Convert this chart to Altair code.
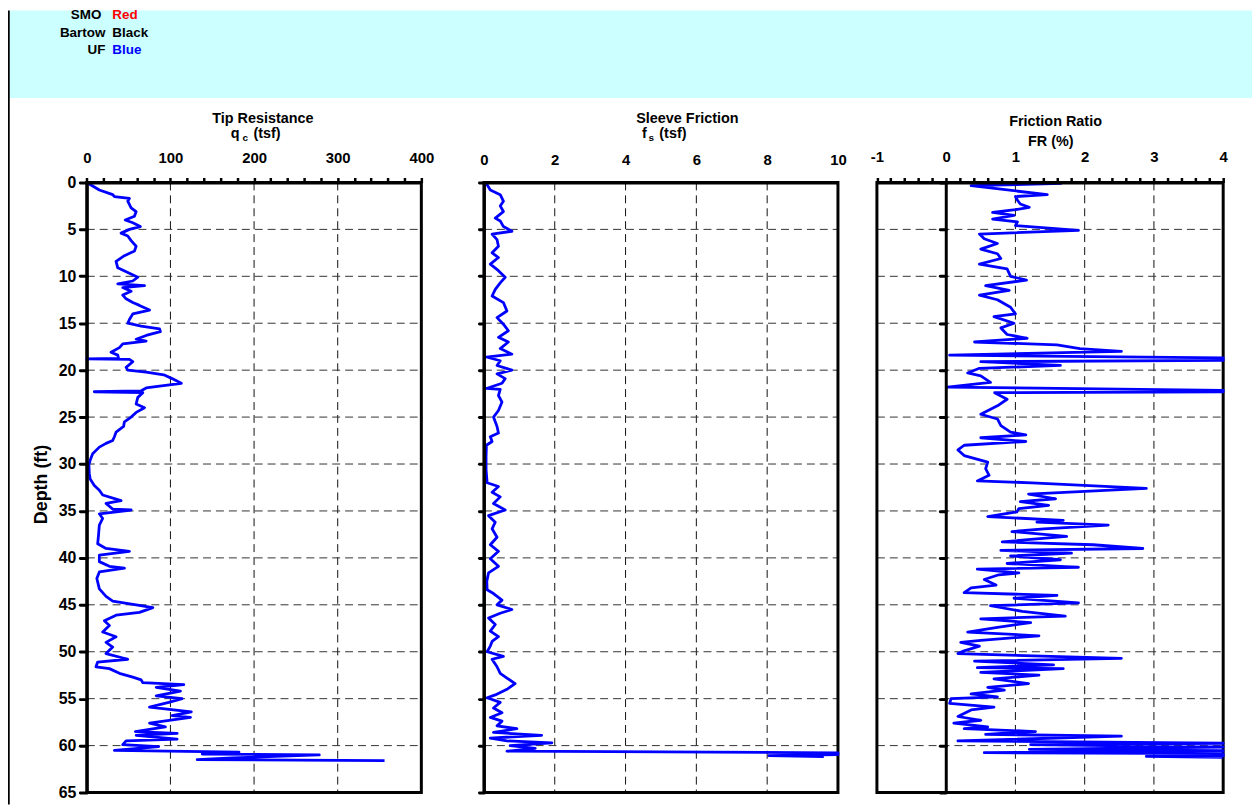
import altair as alt
import pandas as pd

# ---------------- data ----------------
qc_depth = [0, 0.8, 1.3, 1.5, 1.7, 2.0, 2.7, 3.1, 3.6, 4.0, 4.3, 4.7, 5.0, 5.4, 5.7, 6.2, 6.8, 7.3, 7.8,
            8.4, 9.1, 9.6, 10.1, 10.5, 10.8, 11.0, 11.2, 11.6, 12.0, 12.4, 12.8, 13.1, 13.6, 14.0, 14.6,
            15.0, 15.3, 15.6, 15.9, 16.3, 16.7, 16.9, 17.2, 17.6, 18.1, 18.4, 18.75, 18.8, 18.85, 19.1,
            19.7, 20.0, 20.2, 20.5, 20.9, 21.4, 21.7, 21.9, 22.2, 22.3, 22.4, 22.9, 23.6, 24.0, 24.5,
            25.0, 25.5, 26.0, 26.6, 27.1, 27.5, 27.8, 28.2, 28.9, 29.6, 30.1, 31.0, 31.6, 32.3, 32.8,
            33.3, 33.9, 34.2, 34.8, 34.9, 35.3, 35.8, 36.5, 37.6, 38.5, 39.0, 39.3, 39.7, 40.4, 40.9,
            41.1, 41.5, 42.2, 43.3, 44.1, 44.6, 45.0, 45.3, 45.8, 46.1, 46.7, 47.2, 47.9, 48.4, 49.0,
            49.5, 50.2, 50.8, 51.1, 51.6, 51.8, 52.3, 52.7, 53.0, 53.3, 53.5, 53.8, 54.2, 54.7, 55.0,
            55.4, 55.9, 56.4, 56.8, 57.0, 57.6, 58.0, 58.5, 58.7, 58.9, 59.3, 59.5, 59.9, 60.1, 60.5,
            60.7, 60.9, 61.0, 61.3, 61.5, 61.6]
qc_tsf = [0, 15, 31, 33, 51, 49, 53, 59, 57, 46, 55, 64, 51, 41, 49, 53, 59, 57, 45,
          35, 37, 49, 61, 55, 37, 69, 43, 53, 43, 47, 55, 63, 75, 55, 51,
          49, 65, 87, 88, 71, 59, 71, 43, 39, 29, 37, 38, 0, 51, 55,
          47, 49, 71, 92, 102, 113, 87, 71, 65, 9, 67, 61, 59, 69, 59,
          53, 45, 44, 35, 33, 31, 23, 15, 7, 4, 2.5, 3, 4, 9, 15,
          19, 41, 23, 31, 53, 15, 19, 15, 14, 13, 23, 51, 15, 15, 27,
          45, 15, 12, 15, 23, 31, 59, 79, 63, 35, 21, 27, 19, 35, 23,
          31, 23, 49, 13, 11, 27, 39, 55, 65, 67, 116, 83, 112, 83, 114,
          98, 75, 125, 102, 124, 75, 94, 58, 108, 59, 108, 47, 43, 86, 33,
          182, 138, 278, 174, 132, 356]

fs_depth = [0, 0.8, 1.3, 2.0, 2.5, 3.1, 3.8, 4.1, 4.7, 5.2, 5.5, 6.1, 6.8, 7.5, 8.0, 8.7, 9.4, 10.1,
            10.7, 11.4, 12.1, 12.8, 13.7, 14.4, 15.1, 15.8, 16.5, 17.0, 17.7, 18.3, 18.6, 19.0, 19.5,
            20.0, 20.4, 20.9, 21.4, 21.95, 22.05, 22.7, 23.4, 24.3, 25.0, 26.0, 26.7, 27.1, 27.6, 28.0,
            29.2, 30.6, 32.0, 32.4, 33.0, 33.5, 34.2, 34.9, 35.5, 36.2, 36.9, 37.8, 38.6, 39.3, 40.1,
            40.9, 41.6, 42.5, 43.4, 43.8, 44.5, 45.0, 45.5, 45.9, 46.4, 47.1, 47.8, 48.4, 48.9, 49.4,
            50.0, 50.5, 50.8, 51.6, 52.3, 52.8, 53.4, 54.0, 54.6, 54.9, 55.4, 56.0, 56.5, 57.0, 57.4,
            57.9, 58.2, 58.6, 58.9, 59.2, 59.5, 59.7, 60.0, 60.3, 60.6, 60.77, 60.95, 61.08, 61.18]
fs_tsf = [0.05, 0.18, 0.46, 0.55, 0.46, 0.55, 0.32, 0.46, 0.55, 0.79, 0.23, 0.37, 0.41, 0.23, 0.41, 0.18, 0.41, 0.60,
          0.46, 0.32, 0.23, 0.55, 0.65, 0.37, 0.55, 0.69, 0.41, 0.69, 0.46, 0.79, 0.07, 0.46, 0.37,
          0.79, 0.37, 0.60, 0.51, 0.07, 0.46, 0.41, 0.51, 0.41, 0.27, 0.37, 0.41, 0.18, 0.23, 0.07,
          0.06, 0.06, 0.09, 0.41, 0.23, 0.46, 0.27, 0.60, 0.13, 0.32, 0.23, 0.37, 0.18, 0.41, 0.18,
          0.41, 0.13, 0.08, 0.09, 0.27, 0.51, 0.37, 0.79, 0.46, 0.13, 0.32, 0.18, 0.41, 0.23, 0.18,
          0.09, 0.55, 0.23, 0.37, 0.46, 0.65, 0.88, 0.65, 0.32, 0.09, 0.46, 0.27, 0.51, 0.18, 0.51,
          0.37, 0.93, 0.27, 1.63, 0.18, 0.65, 1.92, 0.74, 1.45, 0.65, 10.0, 10.0, 8.05, 9.6]

fr_depth = [0.1, 0.35, 1.3, 1.5, 1.9, 2.3, 2.65, 2.9, 3.2, 3.5, 3.9, 4.2, 4.6, 5.1, 5.5, 6.0, 6.5, 7.1,
            7.6, 8.1, 8.7, 9.2, 10.0, 10.4, 11.0, 11.5, 12.0, 12.5, 13.3, 14.0, 14.3, 15.0, 15.5, 16.2,
            16.6, 17.0, 17.3, 17.7, 18.0, 18.4, 18.7, 18.95, 19.1, 19.5, 19.8, 20.3, 20.6, 21.3, 21.8,
            22.15, 22.3, 22.4, 23.1, 23.8, 24.7, 25.2, 25.9, 26.6, 26.9, 27.2, 27.6, 28.0, 28.5, 29.1,
            29.8, 30.5, 31.2, 31.8, 32.0, 32.6, 33.2, 33.7, 34.0, 34.4, 34.75, 35.1, 35.6, 36.0, 36.2,
            36.5, 36.9, 37.2, 37.7, 38.3, 38.6, 39.0, 39.2, 39.5, 39.8, 40.2, 40.6, 41.0, 41.2, 41.6,
            41.8, 42.3, 42.9, 43.2, 43.7, 44.0, 44.3, 44.8, 45.1, 45.7, 46.2, 46.5, 46.9, 47.4, 47.9,
            48.3, 48.8, 49.0, 49.4, 49.9, 50.2, 50.7, 51.0, 51.4, 51.7, 51.8, 52.2, 52.5, 52.9, 53.4,
            53.8, 54.1, 54.5, 54.8, 55.0, 55.5, 55.9, 56.2, 56.9, 57.3, 57.6, 58.0, 58.2, 58.5, 58.8,
            59.0, 59.5, 59.75, 59.9, 60.15, 60.4, 60.55, 60.75, 60.85, 61.1, 61.15, 61.25]
fr_pct = [1.67, 0.36, 1.46, 1.0, 1.03, 1.07, 1.2, 1.0, 0.67, 0.98, 0.67, 1.03, 1.0, 1.91, 0.48, 0.55, 0.74, 0.50,
          0.74, 0.79, 0.48, 0.88, 0.93, 1.16, 0.57, 0.91, 0.48, 0.74, 0.93, 1.00, 0.69, 0.98, 0.79, 0.88,
          1.17, 0.41, 1.60, 1.93, 2.53, 0.05, 4.0, 4.0, 0.50, 1.65, 0.48, 0.31, 0.50, 0.64, 0.02,
          4.0, 4.0, 0.70, 0.88, 0.74, 0.50, 0.74, 0.79, 0.93, 1.15, 0.50, 1.15, 0.26, 0.17, 0.26,
          0.60, 0.57, 0.62, 0.45, 1.24, 2.89, 1.19, 1.58, 1.07, 1.48, 1.05, 1.02, 0.60, 1.69, 1.31,
          2.34, 1.41, 0.95, 1.74, 0.81, 2.12, 2.84, 0.79, 1.81, 0.93, 1.65, 0.88, 1.91, 0.45, 1.05,
          0.76, 0.55, 0.72, 0.36, 0.26, 1.60, 0.98, 1.91, 0.64, 1.10, 1.72, 0.50, 1.22, 0.74, 0.31,
          1.34, 0.50, 0.21, 0.48, 0.26, 0.17, 2.53, 0.41, 1.55, 0.45, 1.69, 0.50, 1.34, 0.69, 1.19,
          0.60, 0.84, 0.36, 0.74, 0.07, 0.05, 0.69, 0.36, 0.17, 0.50, 0.11, 0.60, 0.26, 1.29, 0.57,
          2.53, 0.17, 4.0, 1.22, 4.0, 1.2, 4.0, 0.55, 4.0, 4.0, 2.89, 4.0]

depth_ticks = list(range(0, 66, 5))
depth_grid = list(range(5, 65, 5))
qc_ticks = list(range(0, 401, 20))
qc_grid = [100, 200, 300]
fs_ticks = [0, 2, 4, 6, 8, 10]
fs_grid = [2, 4, 6, 8]
fr_ticks = [round(-1 + 0.2 * k, 1) for k in range(26)]
fr_grid = [1, 2, 3]

legend_names = ["SMO", "Bartow", "UF"]
legend_colors = ["Red", "Black", "Blue"]
legend_hex = ["#FF0000", "#000000", "#0000FF"]

# ---------------- layout / style ----------------
FONT = "Liberation Sans"
W, H = 1252, 799
Y_RANGE = [173, 787]
DEPTH_DOMAIN = [0, 65]
BLUE = "#0000FF"


def one_row():
    return pd.DataFrame({"k": [0]})


def text_layer(txt, x, y, size, color="black", align="center", baseline="alphabetic", angle=None):
    kw = dict(text=txt, font=FONT, fontWeight="bold", fontSize=size, color=color,
              align=align, baseline=baseline)
    if angle is not None:
        kw["angle"] = angle
    return alt.Chart(one_row()).mark_text(**kw).encode(x=alt.value(x), y=alt.value(y))


def panel(depths, values, domain, xrange, ticks, grid, label_expr, label_pad, tick_opacity,
          y_offset, y_labels, y_tick_size):
    xs = alt.Scale(domain=domain, range=xrange, nice=False, zero=False)
    ys = alt.Scale(domain=DEPTH_DOMAIN, range=Y_RANGE, nice=False, zero=False)
    x_axis = alt.Axis(orient="top", offset=-Y_RANGE[0], values=ticks, labelExpr=label_expr,
                      title=None, grid=False, labelFlush=False, labelOverlap=False,
                      labelPadding=label_pad, tickSize=5, tickWidth=2.5, tickColor="black",
                      tickOpacity=tick_opacity, domainColor="black", domainWidth=3,
                      labelFont=FONT, labelFontWeight="bold", labelFontSize=15,
                      labelColor="black", zindex=1)
    y_axis = alt.Axis(orient="left", offset=-y_offset, values=depth_ticks, labels=y_labels,
                      title=None, grid=False, labelFlush=False, labelOverlap=False,
                      labelPadding=4, tickSize=y_tick_size, tickWidth=3, tickCap="round",
                      tickColor="black", domainColor="black", domainWidth=3,
                      labelFont=FONT, labelFontWeight="bold", labelFontSize=16,
                      labelColor="black", zindex=1)

    vgrid = alt.Chart(pd.DataFrame({"x": grid})).mark_rule(
        color="#111111", strokeWidth=1, strokeDash=[8, 5]
    ).encode(
        x=alt.X("x:Q", scale=xs, axis=x_axis),
        y=alt.YDatum(DEPTH_DOMAIN[0], scale=ys, axis=y_axis),
        y2=alt.Y2Datum(DEPTH_DOMAIN[1]),
    )
    hgrid = alt.Chart(pd.DataFrame({"y": depth_grid})).mark_rule(
        color="#333333", strokeWidth=1, strokeDash=[8, 5]
    ).encode(
        y=alt.Y("y:Q", scale=ys, axis=y_axis),
        x=alt.XDatum(domain[0], scale=xs, axis=x_axis),
        x2=alt.X2Datum(domain[1]),
    )
    frame = alt.Chart(one_row()).mark_rect(
        fillOpacity=0, stroke="black", strokeWidth=3
    ).encode(
        x=alt.XDatum(domain[0], scale=xs, axis=x_axis),
        x2=alt.X2Datum(domain[1]),
        y=alt.YDatum(DEPTH_DOMAIN[0], scale=ys, axis=y_axis),
        y2=alt.Y2Datum(DEPTH_DOMAIN[1]),
    )
    line_df = pd.DataFrame({"i": list(range(len(depths))), "y": depths, "x": values})
    line = alt.Chart(line_df).mark_line(color=BLUE, strokeWidth=2.8, strokeJoin="round").encode(
        x=alt.X("x:Q", scale=xs, axis=x_axis),
        y=alt.Y("y:Q", scale=ys, axis=y_axis),
        order=alt.Order("i:Q"),
    )
    return alt.layer(vgrid, hgrid, frame, line)


p1 = panel(qc_depth, qc_tsf, [0, 400], [79.3, 416], qc_ticks, qc_grid,
           "datum.value % 100 == 0 ? datum.label : ''", 12, 1, 79.3, True, 7)
p2 = panel(fs_depth, fs_tsf, [0, 10], [479, 835.3], fs_ticks, fs_grid,
           "datum.label", 10, 0, 479, False, 5)
p3 = panel(fr_depth, fr_pct, [-1, 4], [874.5, 1223], fr_ticks, fr_grid,
           "abs(datum.value - round(datum.value)) < 0.001 ? '' + round(datum.value) : ''",
           13, 1, 943.8, False, 6)

band = alt.Chart(one_row()).mark_rect(color="#CCFFFF").encode(
    x=alt.value(1), x2=alt.value(W), y=alt.value(0), y2=alt.value(88))
left_border = alt.Chart(one_row()).mark_rule(color="black", strokeWidth=2.5).encode(
    x=alt.value(0.5), y=alt.value(0), y2=alt.value(H))

legend_rows_y = [5, 22.5, 40]
legend_name_x = [94, 98, 98]
legend_layers = []
for nm, cn, hx, yy, nx in zip(legend_names, legend_colors, legend_hex, legend_rows_y, legend_name_x):
    legend_layers.append(text_layer(nm, nx, yy, 13.5, align="right", baseline="middle"))
    legend_layers.append(text_layer(cn, 105, yy, 13.5, color=hx, align="left", baseline="middle"))

titles = [
    text_layer("Tip Resistance", 256.5, 113.5, 14.5),
    text_layer("q", 224.3, 128, 14.5, align="left"),
    text_layer("c", 236, 131, 10, align="left"),
    text_layer("(tsf)", 247, 128.5, 14.5, align="left"),
    text_layer("Sleeve Friction", 683.8, 113, 14.5),
    text_layer("f", 638, 128.5, 14.5, align="left"),
    text_layer("s", 644.5, 131.5, 10, align="left"),
    text_layer("(tsf)", 655.5, 128.5, 14.5, align="left"),
    text_layer("Friction Ratio", 1054.3, 116.5, 14.5),
    text_layer("FR (%)", 1049.5, 136.3, 14.5),
    text_layer("Depth (ft)", 34, 477, 18, baseline="middle", angle=270),
]

chart = alt.layer(
    band, left_border, *legend_layers, *titles, p1, p2, p3
).resolve_scale(
    x="independent", y="independent"
).resolve_axis(
    x="independent", y="independent"
).properties(
    width=W, height=H, autosize=alt.AutoSizeParams(type="none"), padding=0, background="white"
).configure_view(strokeWidth=0)

chart.save("out.html", embed_options={"renderer": "svg", "actions": False})
